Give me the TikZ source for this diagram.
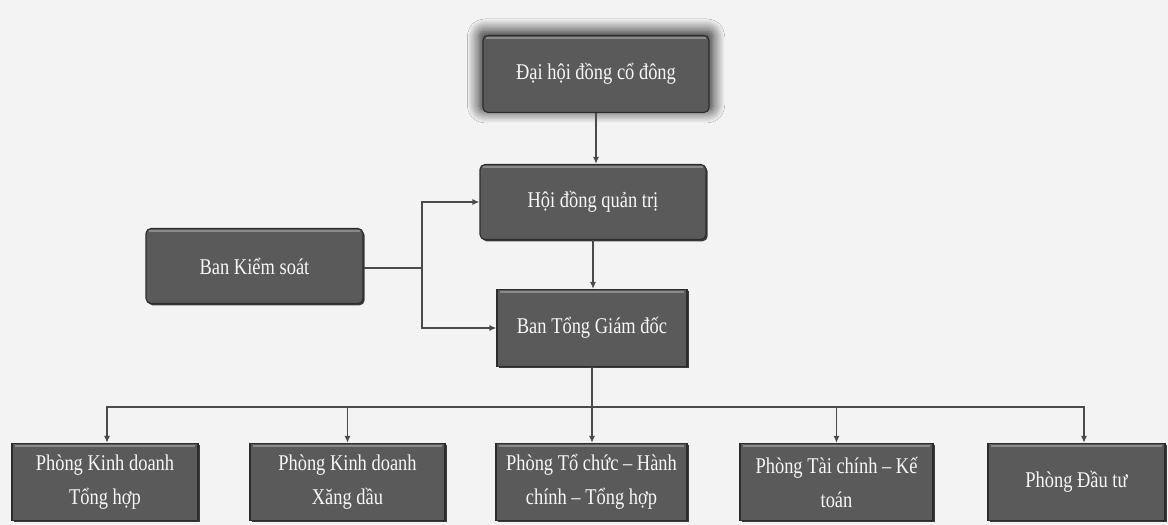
\documentclass[tikz,border=0pt]{standalone}
\usepackage{fontspec}
\setmainfont{Liberation Serif}
\newfontfamily\boxfont[FakeStretch=0.82]{Liberation Serif}
\usetikzlibrary{shadows,shadows.blur,arrows.meta,calc}
\definecolor{bg}{HTML}{F3F3F3}
\definecolor{boxfill}{HTML}{5A5A5A}
\definecolor{boxedge}{HTML}{2C2C2C}
\definecolor{connc}{HTML}{4A4A4A}
\definecolor{bevel}{HTML}{8A8A8A}
\tikzset{
  boxbase/.style={draw=boxedge, line width=1.1pt, fill=boxfill, text=white!94!gray,
    align=center, inner sep=2pt, font=\boxfont\fontsize{22.5}{34}\selectfont,
    path picture={\draw[bevel, line width=1.4pt]
      ([yshift=-2.5pt,xshift=3pt]path picture bounding box.north west) --
      ([yshift=-2.5pt,xshift=-3pt]path picture bounding box.north east);}},
  orgbox/.style={boxbase,
    drop shadow={shadow xshift=1.6pt, shadow yshift=-1.8pt, fill=black, opacity=0.75}},
  roundbox/.style={orgbox, rounded corners=5pt},
  topbox/.style={boxbase, rounded corners=5pt,
    blur shadow={shadow xshift=0pt, shadow yshift=3pt, shadow scale=1.03,
      shadow blur radius=12pt, shadow blur steps=16, shadow opacity=90}},
  conn/.style={draw=connc, line width=1.5pt, -{Latex[length=7pt,width=6pt]}},
  plain/.style={draw=connc, line width=1.5pt}
}
\begin{document}
\begin{tikzpicture}[x=1pt,y=-1pt]
\fill[bg] (0,0) rectangle (1168,525);
\useasboundingbox (0,0) rectangle (1168,525);

\node[topbox, minimum width=226pt, minimum height=77pt] (dh) at (596,74) {Đại hội đồng cổ đông};
\node[roundbox, minimum width=226pt, minimum height=75pt] (hd) at (593,202) {Hội đồng quản trị};
\node[roundbox, minimum width=217pt, minimum height=75pt] (bks) at (254.5,266) {Ban Kiểm soát};
\node[orgbox, minimum width=190pt, minimum height=77pt] (bt) at (592,328) {Ban Tổng Giám đốc};

\node[orgbox, minimum width=186pt, minimum height=77pt] (p1) at (105,482) {Phòng Kinh doanh\\Tổng hợp};
\node[orgbox, minimum width=195pt, minimum height=77pt] (p2) at (347.5,482) {Phòng Kinh doanh\\Xăng dầu};
\node[orgbox, minimum width=191pt, minimum height=77pt] (p3) at (591.5,482) {Phòng Tổ chức – Hành\\chính – Tổng hợp};
\node[orgbox, minimum width=193pt, minimum height=77pt] (p4) at (836.5,482) {Phòng Tài chính – Kế\\toán};
\node[orgbox, minimum width=177pt, minimum height=77pt] (p5) at (1076.5,482) {Phòng Đầu tư};

% top chain
\draw[conn] (dh.south) -- (dh.south |- hd.north);
\draw[conn] (hd.south) -- (hd.south |- bt.north);

% Ban Kiem soat
\coordinate (j) at (422,268);
\draw[plain] (bks.east |- j) -- (j);
\draw[conn] (j) |- (hd.west);
\draw[conn] (j) |- (bt.west);

% bus
\coordinate (bus) at (592,407);
\draw[plain] (bt.south) -- (bus);
\draw[conn] (bus) -| ([xshift=2pt]p1.north);
\draw[conn] (bus) -| (p2.north);
\draw[conn] (bus) -- (bus |- p3.north);
\draw[conn] (bus) -| (p4.north);
\draw[conn] (bus) -| ([xshift=7.5pt]p5.north);
\end{tikzpicture}
\end{document}
